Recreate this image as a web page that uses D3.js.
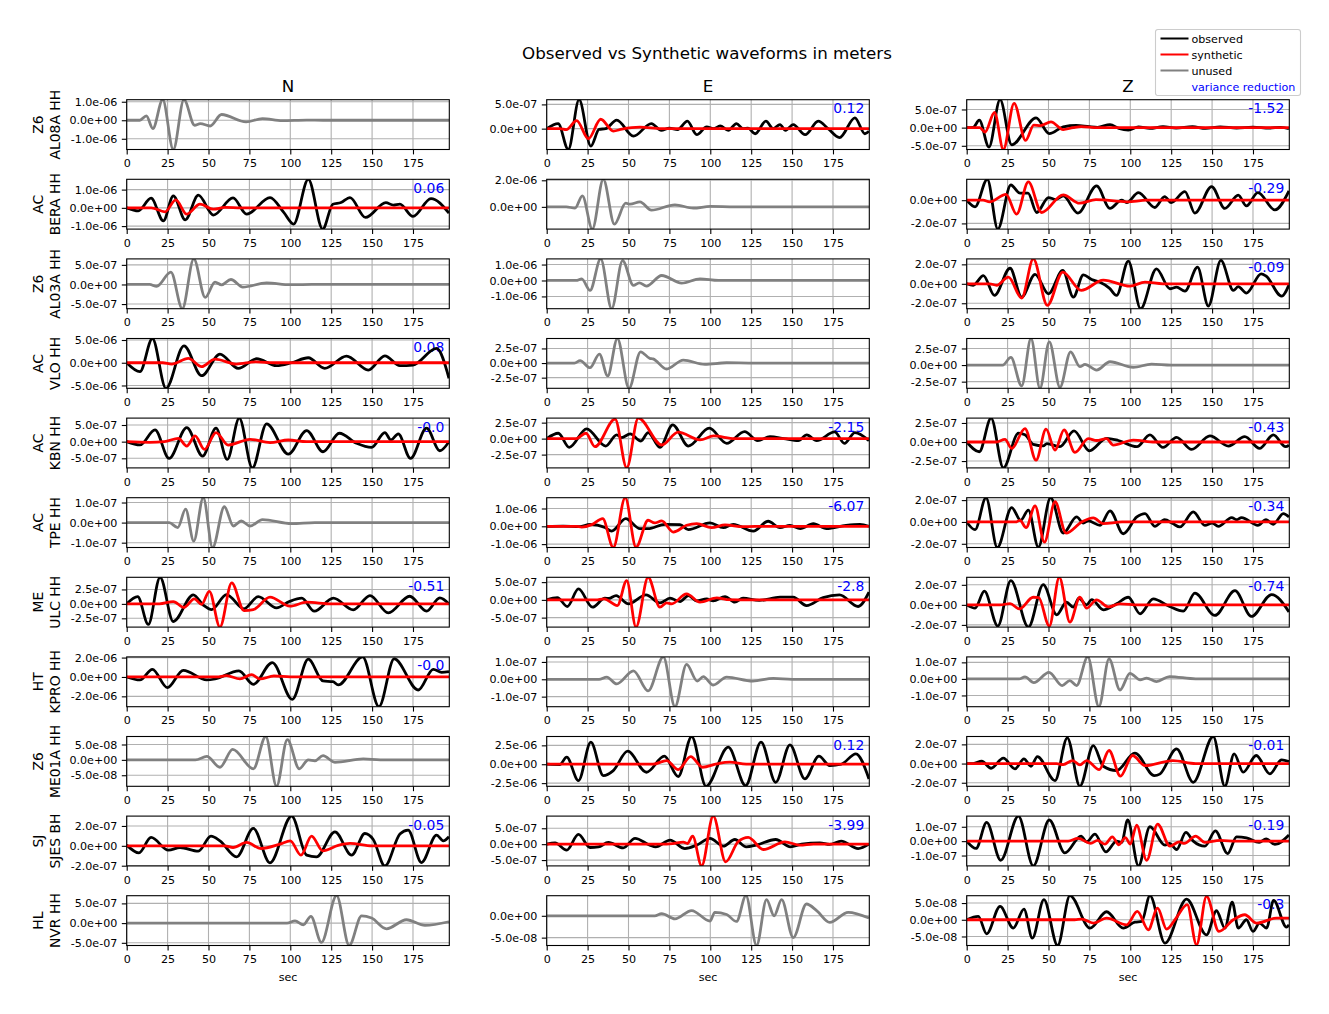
<!DOCTYPE html>
<html>
<head>
<meta charset="utf-8">
<script src="https://cdn.jsdelivr.net/npm/d3@7"></script>
<style>
body { margin: 0; background: #fff; }
text { font-family: "DejaVu Sans", sans-serif; }
</style>
</head>
<body>
<svg id="chart" width="1329" height="1014"></svg>
<script>
// Waveforms: [sec, displacement in nm], peaks and troughs only

// Z6 AL08A HH
var AL08A_N_unused = [[0,0],[8,0],[12,240],[16,-450],[22,1110],[28.5,-1580],[35,1110],[41.5,-270],[45,-180],[51,-310],[58,310],[73,-90],[83,90],[95,-20],[110,10],[120,0],[197,0]];
var AL08A_E_obs = [[0,0],[7,105],[13.2,-430],[19.8,597],[27,-360],[32,-15],[36,0],[42.8,175],[53,-155],[64,105],[70,-35],[75,10],[80,-20],[86,155],[91.7,-125],[97.8,35],[102,0],[106,55],[111,-35],[116,105],[120,0],[123,10],[127.4,-105],[134,155],[138.5,0],[142.6,85],[146,-35],[150.7,85],[158,-125],[166,155],[172,0],[179,-185],[188.4,222],[194.5,-105],[197,-55]];
var AL08A_E_syn = [[0,0],[8,0],[12,-20],[18.3,167],[25.5,-208],[33,194],[40.7,-49],[46,-10],[57,30],[70,0],[197,0]];
var AL08A_Z_obs = [[0,0],[4,10],[7.7,204],[13.6,-537],[20.4,769],[27.5,-472],[42.4,269],[50.5,-167],[59,20],[67,60],[75,25],[80,10],[87.6,83],[93,-20],[98.8,-65],[105,20],[112,-20],[120,25],[128,-15],[138,25],[146,-20],[155,20],[165,-10],[175,15],[185,-15],[192,10],[197,-30]];
var AL08A_Z_syn = [[0,0],[8,0],[11.2,-120],[17,417],[22.4,-602],[29,667],[36,-352],[41,70],[45,55],[51.5,157],[59,-55],[65,0],[70,30],[80,0],[197,0]];

// AC BERA HH
var BERA_N_obs = [[0,0],[7.1,-164],[14.9,528],[22.4,-710],[28.5,655],[35.8,-655],[43.8,692],[53,-400],[65,546],[73.3,-346],[87.6,564],[96,-250],[102,-892],[111,1565],[119.8,-1165],[126,200],[131,290],[136.5,564],[146,-528],[158.4,290],[163,145],[167,200],[175,-473],[186,510],[197,-290]];
var BERA_N_syn = [[0,0],[15,0],[23.4,-218],[30,437],[36.7,-346],[44.8,200],[53,-73],[60,20],[70,0],[197,0]];
var BERA_E_unused = [[0,0],[12,0],[17.3,-100],[21.8,825],[27.9,-1675],[34.6,2075],[41.4,-1300],[48.3,275],[51,200],[57,375],[64,-250],[78.4,150],[89.6,-100],[100,30],[115,0],[197,0]];
var BERA_Z_obs = [[0,0],[5.1,-57],[12.6,180],[19,-249],[27,131],[32.6,60],[37.5,60],[42.8,-106],[50,23],[54.4,5],[59,37],[68,-111],[79.4,123],[87.6,-71],[94.7,0],[97.8,-20],[105,66],[115,-63],[121,31],[125,-20],[133.4,74],[139.5,-111],[149.7,117],[157.8,-71],[166,43],[171,-49],[178,66],[188.4,-83],[197,80]];
var BERA_Z_syn = [[0,0],[10,0],[14,-14],[24,51],[30.5,-120],[37.7,157],[45.8,-106],[59,46],[69,-26],[79,5],[98,-14],[110,0],[197,0]];

// Z6 AL03A HH
var AL03A_N_unused = [[0,0],[14,0],[18.3,-50],[27,313],[34,-618],[41,652],[48,-330],[54,60],[58,-10],[63.7,127],[71,-68],[85.5,40],[100,-5],[115,0],[197,0]];
var AL03A_E_unused = [[0,0],[18,0],[21.4,104],[26.5,-625],[33,1354],[39.7,-1770],[46.4,1250],[53,-312],[56.6,-146],[61,-354],[70.3,312],[82.5,-166],[93.7,104],[105,0],[197,0]];
var AL03A_Z_obs = [[0,0],[4,-15],[10.2,85],[17,-120],[26.5,160],[33.6,-137],[41.8,96],[50,-103],[58.7,137],[65.2,-137],[71.3,92],[76.4,44],[81.5,15],[87.2,-44],[91.6,-120],[98.8,233],[106.3,-256],[116,154],[124.2,-51],[128.3,-35],[133.4,-75],[141.1,171],[147.7,-229],[155.4,240],[163,-68],[166,-30],[171,-96],[180,103],[183,80],[192.5,-127],[197,-10]];
var AL03A_Z_syn = [[0,0],[14,0],[18.3,-15],[25.5,68],[33.6,-147],[40.7,256],[49.3,-222],[58.7,120],[70,-68],[83.5,38],[99.8,-24],[109,17],[120,0],[197,0]];

// AC VLO HH
var VLO_N_obs = [[0,0],[8.1,-1970],[15.7,5330],[24,-5620],[35,3720],[45.8,-2850],[57,1900],[68.2,-1240],[79.4,875],[91.6,-655],[100.8,0],[111,1095],[121,-1240],[134.4,1460],[147.7,-1605],[157.8,1530],[167,-655],[175,-500],[189.4,3140],[197,-3430]];
var VLO_N_syn = [[0,0],[22,0],[27.5,-290],[37.7,950],[45.8,-875],[54,800],[67,-290],[79,200],[90,0],[197,0]];
var VLO_E_unused = [[0,0],[17,0],[20.4,40],[26.5,-80],[32.2,153],[37.3,-221],[43.2,420],[50.3,-432],[57.4,193],[63,80],[65,70],[73.3,-102],[83.5,51],[96.7,-23],[110,5],[125,0],[197,0]];
var VLO_Z_unused = [[0,0],[22,0],[27,115],[33.6,-315],[39.3,400],[44.8,-350],[50.5,350],[57,-335],[63.5,200],[69.2,-25],[72.3,10],[79.4,-75],[87.6,50],[101.8,-35],[113,15],[125,0],[197,0]];

// AC KBN HH
var KBN_N_obs = [[0,0],[8.1,-100],[17.3,354],[25.9,-505],[36.7,424],[46.4,-434],[54.6,404],[61.5,-535],[68.8,707],[76.8,-788],[85.5,535],[98.8,-374],[110,333],[120,-303],[130,252],[140.5,-50],[149.7,-172],[157.8,273],[161.5,50],[166,232],[173.5,-505],[183.3,404],[191.4,-273],[197,0]];
var KBN_N_syn = [[0,0],[14,-20],[23,0],[31.6,101],[36.7,-131],[41.8,172],[47.5,-232],[54.6,273],[62,-101],[75.4,71],[87.6,-30],[98.8,50],[110,0],[197,0]];
var KBN_E_obs = [[0,0],[7.1,84],[13.8,-137],[24.4,153],[36,-116],[42.8,58],[45.8,15],[51,74],[57.6,-37],[62,95],[69.2,-137],[77,216],[86.6,-116],[99.4,163],[110,-74],[121,110],[129,-32],[136.5,32],[145,0],[153.8,-32],[159,58],[165,-32],[176,105],[182,-74],[188.4,95],[197,-32]];
var KBN_E_syn = [[0,0],[18,0],[24,84],[29.5,-126],[41.8,305],[48.9,-458],[56,321],[70.3,-100],[80.4,100],[93.7,-21],[102,42],[115,0],[197,0]];
var KBN_Z_obs = [[0,0],[7.7,-128],[14.9,314],[22.4,-340],[31.6,115],[35.6,95],[40.7,-31],[46.8,-50],[49,-20],[57,-62],[65.6,146],[75,-115],[85.5,49],[92.7,20],[104,-62],[112,93],[120,-71],[128.3,62],[137.5,-97],[148.7,80],[160,-53],[170,71],[179,-84],[187.4,93],[195,-62],[197,-40]];
var KBN_Z_syn = [[0,0],[18,0],[23.4,35],[27.5,-84],[35.6,177],[42.4,-239],[48.5,168],[54,-106],[59.5,159],[66.2,-137],[74.3,44],[79.4,20],[85.5,44],[89.6,-40],[101.8,26],[115,0],[197,0]];

// AC TPE HH
var TPE_N_unused = [[0,0],[26,0],[31.2,-25],[36,67],[41,-92],[46.8,124],[52.5,-124],[59.7,79],[65.2,-17],[70,8],[75.4,-17],[83,15],[100.8,-5],[115,0],[197,0]];
var TPE_E_obs = [[0,0],[10,15],[20,-20],[26.5,113],[35.6,-60],[39.7,-265],[48.3,435],[57,-132],[62,-132],[72.3,113],[81.5,95],[86.6,-189],[99.8,189],[108,-76],[114,113],[126.3,-265],[135.4,283],[142.6,-76],[148.7,57],[155,-132],[163,151],[171,-132],[183,57],[191.5,113],[197,0]];
var TPE_E_syn = [[0,0],[18,0],[21.4,-40],[27.5,95],[34.2,435],[40.7,-1190],[48,1606],[54.6,-1172],[62,340],[66,190],[70.3,302],[77.4,-321],[85.5,57],[91.7,151],[100.8,-76],[109,76],[120,-20],[135,0],[197,0]];
var TPE_Z_obs = [[0,0],[5.1,-71],[11.8,222],[18.7,-234],[27.5,132],[33,15],[37.7,108],[43.8,-231],[51.3,222],[59,-102],[67.2,46],[71.3,-10],[74.3,10],[81.5,-31],[87.6,102],[95.7,-108],[104,46],[109,77],[115,-40],[121,20],[126,-15],[130.3,-46],[138.5,92],[145.6,-31],[150,-10],[153.8,-40],[162,40],[165,20],[168,40],[178,-31],[183,21],[187.4,-21],[193.5,77],[197,46]];
var TPE_Z_syn = [[0,0],[30,0],[32.6,15],[36.3,-52],[41.8,148],[47.5,-185],[54,185],[60.7,-102],[70.3,0],[77.4,37],[83.5,-15],[95,0],[197,0]];

// ME ULC HH
var ULC_N_obs = [[0,0],[6.7,126],[13.2,-356],[20.4,460],[28.5,-305],[40.7,155],[46.8,-20],[52,-98],[61,161],[71.7,-86],[80.4,126],[91.6,-69],[99.4,40],[107,98],[114.7,-126],[126.3,98],[138.5,-104],[148.7,144],[159.9,-155],[173,132],[183.3,-126],[191.4,104],[197,0]];
var ULC_N_syn = [[0,0],[20,0],[28.5,40],[35,-63],[41.3,86],[45.8,-10],[50.5,218],[57,-402],[64.2,362],[71.7,-115],[77.4,-98],[87.6,115],[99.8,-40],[110,29],[125,0],[197,0]];
var ULC_E_obs = [[0,0],[6.5,65],[12.6,-187],[19.4,309],[28,-206],[35.6,47],[38,40],[42.4,121],[50,-112],[60.7,140],[69.2,-84],[75.4,47],[81.5,-47],[86.6,121],[91.7,-30],[97.8,28],[101.8,-30],[109,93],[115,-65],[120,47],[130,-15],[142.6,75],[150.7,75],[158.8,-159],[169,65],[179,140],[190.4,-187],[197,215]];
var ULC_E_syn = [[0,0],[30,0],[35,30],[43.2,-159],[48.9,542],[54.6,-767],[62,636],[69.2,-206],[73.3,-84],[76.4,-112],[85.5,168],[93.7,-65],[104,56],[110,10],[125,0],[197,0]];
var ULC_Z_obs = [[0,0],[5.1,-33],[10.8,136],[19,-212],[27,242],[37.7,-222],[46.8,202],[55,-99],[61,26],[65.2,-23],[68.6,66],[73.3,0],[76.4,53],[83.5,-50],[91.6,10],[98.8,76],[106,-89],[114,60],[124,-17],[132.4,-63],[139.5,116],[151.7,-106],[164,142],[174,-116],[186.4,103],[197,-70]];
var ULC_Z_syn = [[0,0],[20.4,0],[26.5,12],[32.2,-40],[40.7,76],[44,72],[50.5,-212],[56.6,275],[63.1,-172],[69.2,76],[73.3,-33],[79.4,50],[86.6,-20],[93.7,10],[105,0],[197,0]];

// HT KPRO HH
var KPRO_N_obs = [[0,0],[8.1,-310],[15.7,793],[24.8,-1104],[34.6,690],[48.9,-310],[54,-210],[68.6,620],[77.4,-760],[89,1484],[101.2,-2312],[111,1830],[120,-414],[126,-480],[129.3,-828],[144.2,2070],[154.2,-3070],[163.5,1863],[178.2,-1346],[187.4,793],[192.5,483],[197,552]];
var KPRO_N_syn = [[0,0],[55,0],[61,138],[69.2,-207],[76.4,241],[81.5,-207],[90,100],[100,0],[197,0]];
var KPRO_E_unused = [[0,0],[32,0],[36.7,13],[42.8,-27],[53,48],[62,-67],[71.3,129],[78.4,-158],[85.5,86],[92,-10],[95.7,15],[101.8,-33],[110,13],[126,-10],[138.5,5],[150,0],[197,0]];
var KPRO_Z_unused = [[0,0],[32,0],[35.6,12],[41,-22],[50.3,40],[58.4,-40],[63,-10],[67.2,-40],[74,133],[80.8,-168],[87,121],[93.7,-67],[99.8,34],[106,-6],[110,5],[116,-16],[124,14],[140,0],[197,0]];

// Z6 ME01A HH
var ME01A_N_unused = [[0,0],[42,0],[49,11],[57,-24],[64.8,34],[77.4,-29],[85,76],[91.6,-86],[98.2,66],[105.5,-29],[111,0],[115,-3],[120,14],[127.3,-8],[144.6,3],[155,0],[197,0]];
var ME01A_E_obs = [[0,0],[8,-40],[12.2,928],[19.4,-2166],[27,2917],[34.6,-1503],[40.7,-840],[49.5,1724],[61,-1061],[71.9,1061],[80.4,-1635],[88.6,3670],[97.4,-2920],[111,2254],[121.6,-2830],[131,2917],[140,-2387],[148.7,2564],[157.8,-1945],[166.4,1061],[173,-177],[180,0],[189,1370],[197,-1945]];
var ME01A_E_syn = [[0,0],[65,0],[73.3,486],[80.4,-707],[88,1017],[95.3,-398],[104,44],[112,265],[122,0],[197,0]];
var ME01A_Z_obs = [[0,0],[4,0],[9.2,24],[14.9,-49],[22.4,56],[29.5,-56],[35,49],[39.3,-28],[43.2,73],[54,-177],[61.5,268],[69.2,-237],[77.4,188],[83.5,-28],[91.6,-73],[102.8,108],[114.7,-125],[118,-110],[128.3,153],[138.5,-195],[150.7,282],[157.8,-237],[163.5,101],[169,-90],[177,84],[185.3,-108],[192.5,38],[197,21]];
var ME01A_Z_syn = [[0,0],[55,0],[59,-10],[64.8,31],[69.2,-14],[73.3,31],[81,-63],[87,136],[94,-132],[101.4,84],[109,-21],[126,31],[140,0],[197,0]];

// SJ SJES BH
var SJES_N_obs = [[0,7],[7.5,-71],[14.9,84],[25.5,-44],[32.6,-17],[43.8,-54],[51.5,97],[57,50],[67.2,-111],[77.4,175],[87.6,-171],[100.8,299],[110,-94],[116,-111],[127.3,141],[137.5,-94],[145.6,124],[150.7,64],[157.8,-202],[167,118],[172,158],[180.2,-168],[189.4,108],[193.5,50],[197,91]];
var SJES_N_syn = [[0,0],[60,0],[65,-17],[73.3,34],[82,-27],[93.7,17],[100,50],[106.5,-94],[113,97],[119.8,-50],[129.3,5],[136.5,24],[150,0],[197,0]];
var SJES_E_obs = [[0,0],[5.1,40],[12.2,-189],[19.4,305],[26.5,-105],[31.6,-85],[37.7,53],[46.8,-116],[54,179],[63,-30],[66.6,-84],[75.4,126],[84.5,-137],[91.6,-32],[99.8,179],[108,-63],[115,147],[122,-84],[128,-30],[140,147],[149,-84],[155.8,0],[167,42],[173,-10],[180,95],[190.4,-137],[197,0]];
var SJES_E_syn = [[0,0],[70,0],[77,20],[83.5,63],[86,20],[89.2,252],[94.7,-683],[101.8,882],[109.4,-557],[117,74],[123.2,210],[132.4,-168],[145.6,74],[154.8,-32],[163,0],[197,0]];
var SJES_Z_obs = [[0,0],[5.7,-51],[12.2,130],[20.8,-133],[31.6,174],[40.7,-172],[50.5,147],[60,-82],[69.9,35],[73.3,-5],[78.4,49],[85.1,-75],[91.6,0],[94.7,-10],[98.4,147],[105,-172],[112,100],[121.2,-28],[124,-15],[128.3,-58],[134,61],[138.5,0],[145.6,-35],[152,72],[159.5,-86],[165,30],[171,23],[178.8,-9],[183,15],[188.4,-23],[197,42]];
var SJES_Z_syn = [[0,0],[62,0],[68,19],[75.8,-16],[80,5],[84.5,-21],[89,30],[93,-25],[97,25],[100,-20],[103.9,112],[110,-133],[116.7,119],[124.2,-35],[130,-5],[133,-16],[140,35],[145.6,-9],[154.8,5],[165,0],[197,0]];

// HL NVR HH
var NVR_N_unused = [[0,0],[98,0],[102.9,59],[108,-42],[112.6,170],[119,-491],[128.3,695],[136,-568],[143.6,186],[149.7,127],[158.8,-144],[171,85],[182.3,-59],[197,34]];
var NVR_E_unused = [[0,0],[66,0],[70.3,5],[78.4,-7],[88.6,12],[99.8,-12],[102.8,8],[110,3],[116,-13],[121.8,46],[128.3,-68],[134.4,37],[139,0],[143.6,37],[150.7,-50],[158.8,27],[165,12],[173,-15],[184.3,8],[197,-5]];
var NVR_Z_obs = [[0,0],[7.1,10],[12.2,-42],[20.4,40],[28.5,-25],[35,32],[40.1,-55],[47.2,60],[55.6,-77],[63.1,72],[75.4,-25],[85.5,24],[95.7,-25],[102.8,-7],[107,-5],[112,72],[121.2,-70],[134.4,62],[146.6,-45],[152.7,27],[157.8,-25],[162.3,53],[166,-25],[171,0],[175,-35],[179,-10],[183.3,-25],[187.6,58],[195.5,-22],[197,-15]];
var NVR_Z_syn = [[0,0],[66,0],[70.3,2],[77.4,-10],[85.5,5],[97.8,-15],[104.3,25],[111,-30],[116.7,35],[122.2,-28],[128,5],[134.8,45],[140.5,-75],[146.6,70],[154.2,-35],[163,0],[170,15],[177.2,-10],[189.4,5],[197,5]];

var networks = ["Z6", "AC", "Z6", "AC", "AC", "AC", "ME", "HT", "Z6", "SJ", "HL"];
var stations = ["AL08A HH", "BERA HH", "AL03A HH", "VLO HH", "KBN HH", "TPE HH", "ULC HH", "KPRO HH", "ME01A HH", "SJES BH", "NVR HH"];
var components = ["N", "E", "Z"];
var timeTicks = [0, 25, 50, 75, 100, 125, 150, 175];

// y tick values in nm, per row [N, E, Z]
var yTicks = [
  [[-1000,0,1000], [0,500], [-500,0,500]],
  [[-1000,0,1000], [0,2000], [-200,0]],
  [[-500,0,500], [-1000,0,1000], [-200,0,200]],
  [[-5000,0,5000], [-250,0,250], [-250,0,250]],
  [[-500,0,500], [-250,0,250], [-250,0,250]],
  [[-100,0,100], [-1000,0,1000], [-200,0,200]],
  [[-250,0,250], [-500,0,500], [-200,0,200]],
  [[-2000,0,2000], [-100,0,100], [-100,0,100]],
  [[-50,0,50], [-2500,0,2500], [-200,0,200]],
  [[-200,0,200], [-500,0,500], [-100,0,100]],
  [[-500,0,500], [-50,0], [-50,0,50]]
];

var varReduction = [
  [null, "0.12", "-1.52"],
  ["0.06", null, "-0.29"],
  [null, null, "-0.09"],
  ["0.08", null, null],
  ["-0.0", "-2.15", "-0.43"],
  [null, "-6.07", "-0.34"],
  ["-0.51", "-2.8", "-0.74"],
  ["-0.0", null, null],
  [null, "0.12", "-0.01"],
  ["-0.05", "-3.99", "-0.19"],
  [null, null, "-0.3"]
];

var traces = [
  [{unused: AL08A_N_unused}, {obs: AL08A_E_obs, syn: AL08A_E_syn}, {obs: AL08A_Z_obs, syn: AL08A_Z_syn}],
  [{obs: BERA_N_obs, syn: BERA_N_syn}, {unused: BERA_E_unused}, {obs: BERA_Z_obs, syn: BERA_Z_syn}],
  [{unused: AL03A_N_unused}, {unused: AL03A_E_unused}, {obs: AL03A_Z_obs, syn: AL03A_Z_syn}],
  [{obs: VLO_N_obs, syn: VLO_N_syn}, {unused: VLO_E_unused}, {unused: VLO_Z_unused}],
  [{obs: KBN_N_obs, syn: KBN_N_syn}, {obs: KBN_E_obs, syn: KBN_E_syn}, {obs: KBN_Z_obs, syn: KBN_Z_syn}],
  [{unused: TPE_N_unused}, {obs: TPE_E_obs, syn: TPE_E_syn}, {obs: TPE_Z_obs, syn: TPE_Z_syn}],
  [{obs: ULC_N_obs, syn: ULC_N_syn}, {obs: ULC_E_obs, syn: ULC_E_syn}, {obs: ULC_Z_obs, syn: ULC_Z_syn}],
  [{obs: KPRO_N_obs, syn: KPRO_N_syn}, {unused: KPRO_E_unused}, {unused: KPRO_Z_unused}],
  [{unused: ME01A_N_unused}, {obs: ME01A_E_obs, syn: ME01A_E_syn}, {obs: ME01A_Z_obs, syn: ME01A_Z_syn}],
  [{obs: SJES_N_obs, syn: SJES_N_syn}, {obs: SJES_E_obs, syn: SJES_E_syn}, {obs: SJES_Z_obs, syn: SJES_Z_syn}],
  [{unused: NVR_N_unused}, {unused: NVR_E_unused}, {obs: NVR_Z_obs, syn: NVR_Z_syn}]
];

var svg = d3.select("#chart");
var colX = [126.7, 546.7, 966.7],
    W = 322.6, H = 49.8,
    rowTop = function(r) { return 99.7 + r * 79.6; };

var tickFont = "11.1px",
    traceWidth = 2.78,   // 2pt at 100 dpi
    thinWidth = 1.1;     // 0.8pt

// matplotlib style "%.1e" labels
function sci(nm) {
    var s = (nm * 1e-9).toExponential(1);
    if (nm === 0) s = "0.0e+0";
    return s.replace(/e([+-])(\d)$/, function(m, sign, d) { return "e" + sign + "0" + d; });
}

svg.append("defs").append("clipPath").attr("id", "clip")
    .append("rect").attr("width", W).attr("height", H);

var x = d3.scaleLinear().domain([0, 197.2]).range([0, W]);

svg.append("text")
    .attr("x", 707).attr("y", 59)
    .attr("text-anchor", "middle")
    .style("font-size", "16.7px")
    .text("Observed vs Synthetic waveforms in meters");

components.forEach(function(c, ci) {
    svg.append("text")
        .attr("x", colX[ci] + W / 2).attr("y", rowTop(0) - 8)
        .attr("text-anchor", "middle")
        .style("font-size", "16.7px")
        .text(c);
    svg.append("text")
        .attr("x", colX[ci] + W / 2).attr("y", rowTop(10) + H + 35)
        .attr("text-anchor", "middle")
        .style("font-size", tickFont)
        .text("sec");
});

traces.forEach(function(row, r) {
    // station label
    var lab = svg.append("g")
        .attr("transform", "translate(60," + (rowTop(r) + H / 2) + ") rotate(-90)");
    lab.append("text").attr("y", -16.7).attr("text-anchor", "middle")
        .style("font-size", "13.9px").text(networks[r]);
    lab.append("text").attr("y", 0).attr("text-anchor", "middle")
        .style("font-size", "13.9px").text(stations[r]);

    row.forEach(function(p, c) {
        var g = svg.append("g")
            .attr("transform", "translate(" + colX[c] + "," + rowTop(r) + ")");

        var series = p.unused ? [p.unused] : [p.obs, p.syn];
        var all = [].concat.apply([], series);
        var y = d3.scaleLinear()
            .domain(d3.extent(all, function(d) { return d[1]; }))
            .range([H, 0]);
        var ticks = yTicks[r][c];

        // grid
        g.selectAll(".gx").data(timeTicks).enter().append("line")
            .attr("x1", function(d) { return x(d); }).attr("x2", function(d) { return x(d); })
            .attr("y1", 0).attr("y2", H)
            .attr("stroke", "#b0b0b0").attr("stroke-width", thinWidth);
        g.selectAll(".gy").data(ticks).enter().append("line")
            .attr("x1", 0).attr("x2", W)
            .attr("y1", function(d) { return y(d); }).attr("y2", function(d) { return y(d); })
            .attr("stroke", "#b0b0b0").attr("stroke-width", thinWidth);

        // axes
        var ax = g.append("g").attr("transform", "translate(0," + H + ")")
            .call(d3.axisBottom(x).tickValues(timeTicks).tickSize(4.9).tickPadding(5));
        var ay = g.append("g")
            .call(d3.axisLeft(y).tickValues(ticks).tickSize(4.9).tickPadding(4.5).tickFormat(sci));
        [ax, ay].forEach(function(a) {
            a.select(".domain").remove();
            a.selectAll("line").attr("stroke", "#000").attr("stroke-width", thinWidth);
            a.selectAll("text").attr("fill", "#000")
                .style("font-size", tickFont).style("font-family", "'DejaVu Sans', sans-serif");
        });

        // variance reduction
        if (varReduction[r][c] !== null) {
            g.append("text")
                .attr("x", W - 5).attr("y", 13.6)
                .attr("text-anchor", "end")
                .attr("fill", "blue")
                .style("font-size", "13.9px")
                .text(varReduction[r][c]);
        }

        var line = d3.line()
            .x(function(d) { return x(d[0]); })
            .y(function(d) { return y(d[1]); })
            .curve(d3.curveMonotoneX);

        var plot = g.append("g").attr("clip-path", "url(#clip)");
        if (p.unused) {
            plot.append("path").datum(p.unused).attr("d", line)
                .attr("fill", "none").attr("stroke", "gray").attr("stroke-width", traceWidth);
        } else {
            plot.append("path").datum(p.obs).attr("d", line)
                .attr("fill", "none").attr("stroke", "black").attr("stroke-width", traceWidth);
            plot.append("path").datum(p.syn).attr("d", line)
                .attr("fill", "none").attr("stroke", "red").attr("stroke-width", traceWidth);
        }

        g.append("rect").attr("width", W).attr("height", H)
            .attr("fill", "none").attr("stroke", "#000").attr("stroke-width", thinWidth);
    });
});

// legend
var legendItems = [
    {label: "observed", color: "black", line: true},
    {label: "synthetic", color: "red", line: true},
    {label: "unused", color: "gray", line: true},
    {label: "variance reduction", color: "blue", line: false}
];
var lg = svg.append("g").attr("transform", "translate(1155.5,29.5)");
lg.append("rect").attr("width", 145).attr("height", 66).attr("rx", 2.5)
    .attr("fill", "#fff").attr("fill-opacity", 0.8)
    .attr("stroke", "#cccccc").attr("stroke-width", thinWidth);
legendItems.forEach(function(it, i) {
    var yy = 9 + i * 16;
    if (it.line) {
        lg.append("line").attr("x1", 5).attr("x2", 33).attr("y1", yy).attr("y2", yy)
            .attr("stroke", it.color).attr("stroke-width", 2);
    }
    lg.append("text").attr("x", 36).attr("y", yy + 4)
        .attr("fill", it.line ? "#000" : it.color)
        .style("font-size", "11.1px")
        .text(it.label);
});
</script>
</body>
</html>
